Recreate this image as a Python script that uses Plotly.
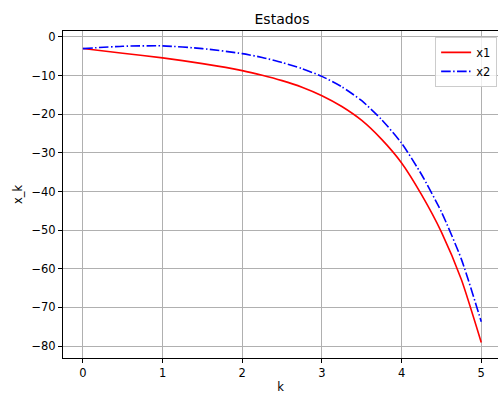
import plotly.graph_objects as go

# Sampled state trajectories
k = [0, 0.5, 1, 1.5, 2, 2.25, 2.5, 2.75, 3, 3.25, 3.5, 3.75, 4, 4.25, 4.5,
     4.75, 5]
x1 = [-3.0, -4.2, -5.4, -6.9, -8.7, -9.9, -11.3, -13.0, -15.2, -18.0, -21.6,
      -26.5, -32.6, -40.8, -50.5, -62.8, -79.1]
x2 = [-3.0, -2.4, -2.3, -3.0, -4.3, -5.3, -6.6, -8.2, -10.2, -12.9, -16.5,
      -21.4, -27.5, -35.6, -45.3, -57.5, -73.7]

x_ticks = [0, 1, 2, 3, 4, 5]
y_ticks = [0, -10, -20, -30, -40, -50, -60, -70, -80]
y_ticklabels = [str(v).replace("-", "\u2212") for v in y_ticks]

W, H = 498, 394
ML, MR, MT, MB = 63, 0, 31, 36

fig = go.Figure()
fig.add_trace(go.Scatter(
    x=k, y=x1, mode="lines", name="x1",
    line=dict(color="#ff0000", width=1.6, shape="spline", smoothing=0.6),
))
fig.add_trace(go.Scatter(
    x=k, y=x2, mode="lines", name="x2",
    line=dict(color="#0000ff", width=1.6, shape="spline", smoothing=0.6,
              dash="9.6px,2.4px,1.5px,2.4px"),
))

font = dict(family="DejaVu Sans", size=11.5, color="#000000")
axis_common = dict(
    showgrid=True, gridcolor="#b0b0b0", gridwidth=1,
    showline=True, linecolor="#000000", linewidth=1,
    ticks="outside", ticklen=4, tickcolor="#000000", tickwidth=1,
    zeroline=False, tickfont=font,
)

fig.update_layout(
    width=W, height=H,
    margin=dict(l=ML, r=MR, t=MT, b=MB),
    paper_bgcolor="white", plot_bgcolor="white",
    font=font,
    title=dict(text="Estados", x=282 / W, xanchor="center", xref="container",
               y=1 - 19 / H, yanchor="middle", yref="container",
               font=dict(family="DejaVu Sans", size=14, color="#000000")),
    xaxis=dict(range=[-0.25, 5.21], tickvals=x_ticks,
               ticktext=[str(v) for v in x_ticks], mirror=True,
               title=dict(text="k", font=font, standoff=5), **axis_common),
    yaxis=dict(range=[-83.1, 1.55], tickvals=y_ticks, ticktext=y_ticklabels,
               title=dict(text="x_k", font=font, standoff=6), **axis_common),
    legend=dict(x=0.998, y=0.982, xanchor="right", yanchor="top",
                bgcolor="rgba(255,255,255,0.8)", bordercolor="#cccccc",
                borderwidth=1, font=dict(family="DejaVu Sans", size=11.5),
                itemwidth=30, tracegroupgap=0),
    showlegend=True,
)

fig.write_html("out.html")
